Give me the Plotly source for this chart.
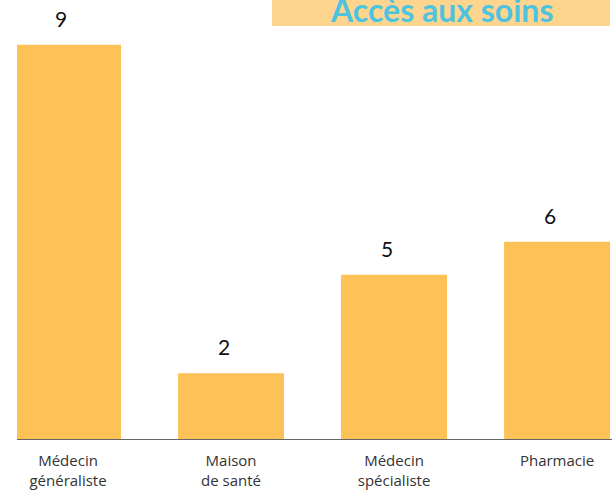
import plotly.graph_objects as go

categories = ["Médecin<br>généraliste", "Maison<br>de santé", "Médecin<br>spécialiste", "Pharmacie"]
bar_heights = [12, 2, 5, 6]
value_labels = ["9", "2", "5", "6"]
title_text = "Accès aux soins"

W, H = 614, 490
fig = go.Figure(go.Bar(
    x=categories, y=bar_heights,
    marker=dict(color="#FDC257", line=dict(width=0)),
    width=0.65, hoverinfo="skip",
))

annotations = [dict(x=c, y=v, text=t, xref="x", yref="y", showarrow=False,
                    yanchor="bottom", yshift=12, xshift=-7,
                    font=dict(family="Lato", size=21, color="#111111"))
               for c, v, t in zip(categories, bar_heights, value_labels)]
annotations.append(dict(text="<b>" + title_text + "</b>", xref="paper", yref="paper",
                        x=441 / W, y=1 - 10 / 441, xanchor="center", yanchor="middle",
                        showarrow=False,
                        font=dict(family="Lato", size=32, color="#4DC3E0")))

fig.update_layout(
    width=W, height=H,
    margin=dict(l=0, r=0, t=0, b=49),
    paper_bgcolor="white", plot_bgcolor="white",
    showlegend=False,
    xaxis=dict(
        domain=[17 / W, 612 / W],
        range=[-0.313, 3.337],
        showline=True, linecolor="#666666", linewidth=1.2,
        ticks="", showgrid=False, ticklabelstandoff=8,
        tickfont=dict(family="Open Sans", size=15, color="#333333"),
    ),
    yaxis=dict(range=[0, 13.36], visible=False, showgrid=False),
    shapes=[dict(type="rect", xref="paper", yref="paper",
                 x0=272 / W, x1=610 / W, y0=1 - 26 / 441, y1=1.0,
                 fillcolor="#FDD58E", line=dict(width=0), layer="below")],
    annotations=annotations,
)

fig.write_html("out.html", config={"displayModeBar": False},
               post_script="document.body.style.margin='0';")
